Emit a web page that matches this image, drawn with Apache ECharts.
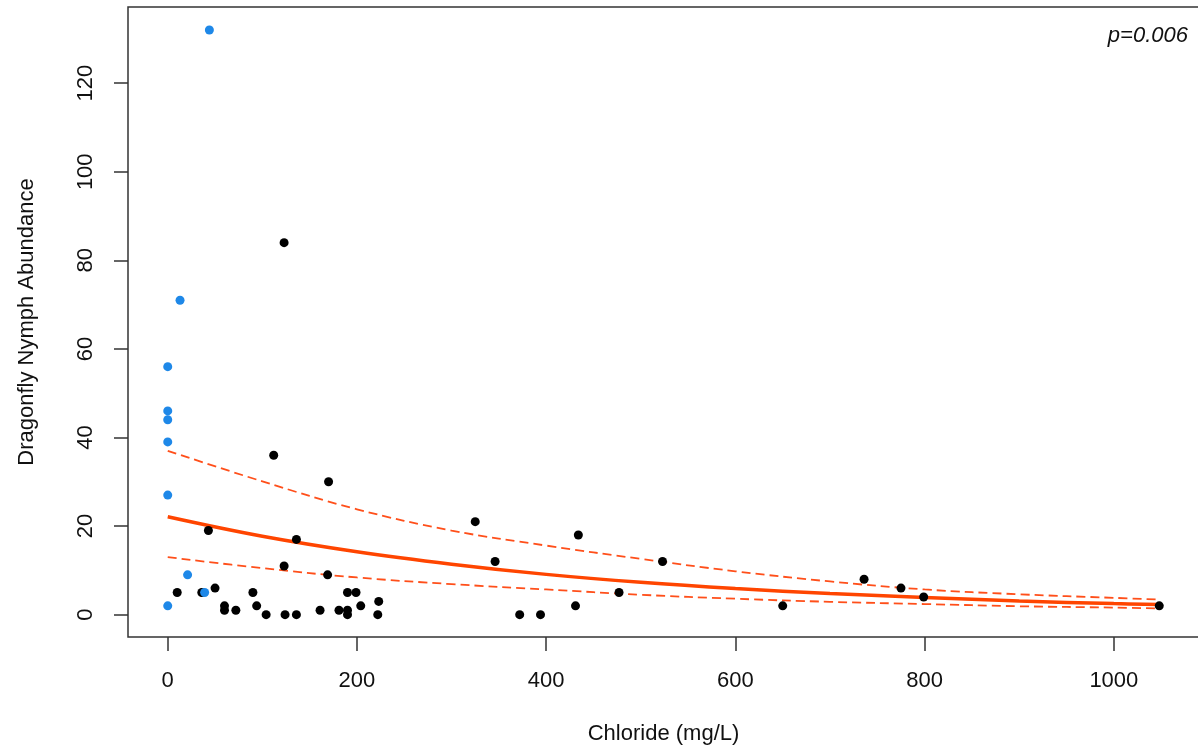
<!DOCTYPE html>
<html>
<head>
<meta charset="utf-8">
<script src="https://cdn.jsdelivr.net/npm/echarts@6/dist/echarts.min.js"></script>
<style>
html,body{margin:0;padding:0;background:#fff;}
#chart{width:1198px;height:750px;}
</style>
</head>
<body>
<div id="chart"></div>
<script>
// Blue (reference) sites
const blueX = [0, 0, 0, 0, 0, 0, 13, 21, 39, 44];
const blueY = [2, 27, 39, 44, 46, 56, 71, 9, 5, 132];
// Black sites
const blackX = [10, 36, 43, 50, 60, 60, 72, 90, 94, 104, 112, 123, 123, 124, 136, 136, 161, 169, 170, 181, 190, 190, 190, 199, 204, 222, 223, 325, 346, 372, 394, 431, 434, 477, 523, 650, 736, 775, 799, 1048];
const blackY = [5, 5, 19, 6, 2, 1, 1, 5, 2, 0, 36, 84, 11, 0, 17, 0, 1, 9, 30, 1, 5, 1, 0, 5, 2, 0, 3, 21, 12, 0, 0, 2, 18, 5, 12, 2, 8, 6, 4, 2];
// Fitted curve and confidence band
const fitX = [0, 100, 200, 300, 400, 500, 600, 700, 800, 900, 1000, 1048];
const fitY = [22.1, 17.7, 14.2, 11.4, 9.1, 7.3, 5.9, 4.8, 3.9, 3.1, 2.5, 2.3];
const upperY = [37.0, 30.1, 23.8, 19.0, 15.6, 12.6, 9.8, 7.5, 5.7, 4.6, 3.8, 3.4];
const lowerY = [13.0, 10.5, 8.4, 6.9, 5.7, 4.5, 3.6, 2.9, 2.4, 1.9, 1.6, 1.4];
// Ticks
const xTicks = [0, 200, 400, 600, 800, 1000];
const yTicks = [0, 20, 40, 60, 80, 100, 120];
const pLabel = 'p=0.006';

const zip = (xs, ys) => xs.map((x, i) => [x, ys[i]]);
const FONT = '"Liberation Sans", Arial, Helvetica, sans-serif';
const AX = '#333';

const chart = echarts.init(document.getElementById('chart'), null, {renderer: 'canvas'});
chart.setOption({
  backgroundColor: '#fff',
  animation: false,
  grid: {left: 128, right: -1, top: 7, bottom: 113, show: true, borderColor: AX, borderWidth: 1.5, backgroundColor: 'transparent', containLabel: false, outerBoundsMode: 'none'},
  xAxis: {
    type: 'value', min: -42, max: 1090,
    name: 'Chloride (mg/L)', nameLocation: 'middle', nameGap: 86,
    nameTextStyle: {fontFamily: FONT, fontSize: 22, color: '#111'},
    axisLine: {show: false, onZero: false},
    axisTick: {show: true, inside: false, length: 14, customValues: xTicks, lineStyle: {color: AX, width: 1.5}},
    axisLabel: {show: true, margin: 33, customValues: xTicks, fontFamily: FONT, fontSize: 22, color: '#111',
      formatter: v => String(v)},
    splitLine: {show: false}
  },
  yAxis: {
    type: 'value', min: -5.04, max: 137.2,
    name: 'Dragonfly Nymph Abundance', nameLocation: 'middle', nameGap: 90, nameRotate: 90,
    nameTextStyle: {fontFamily: FONT, fontSize: 22, color: '#111'},
    axisLine: {show: false, onZero: false},
    axisTick: {show: true, inside: false, length: 14, customValues: yTicks, lineStyle: {color: AX, width: 1.5}},
    axisLabel: {show: true, margin: 31, rotate: 90, customValues: yTicks, fontFamily: FONT, fontSize: 22, color: '#111',
      formatter: v => String(v)},
    splitLine: {show: false}
  },
  graphic: [{
    type: 'text', right: 10, top: 25,
    style: {text: pLabel, font: 'italic 22px ' + FONT, fill: '#111'}
  }],
  series: [
    {type: 'line', data: zip(fitX, upperY), smooth: 0.4, showSymbol: false, z: 2,
     lineStyle: {color: '#FF4F1A', width: 1.8, type: [9, 5]}},
    {type: 'line', data: zip(fitX, lowerY), smooth: 0.4, showSymbol: false, z: 2,
     lineStyle: {color: '#FF4F1A', width: 1.8, type: [9, 5]}},
    {type: 'line', data: zip(fitX, fitY), smooth: 0.4, showSymbol: false, z: 3,
     lineStyle: {color: '#FF4500', width: 3.5}},
    {type: 'scatter', data: zip(blackX, blackY), symbol: 'circle', symbolSize: 9, z: 5,
     itemStyle: {color: '#000', opacity: 1}},
    {type: 'scatter', data: zip(blueX, blueY), symbol: 'circle', symbolSize: 9, z: 6,
     itemStyle: {color: '#1E88E8', opacity: 1}}
  ]
});
</script>
</body>
</html>
